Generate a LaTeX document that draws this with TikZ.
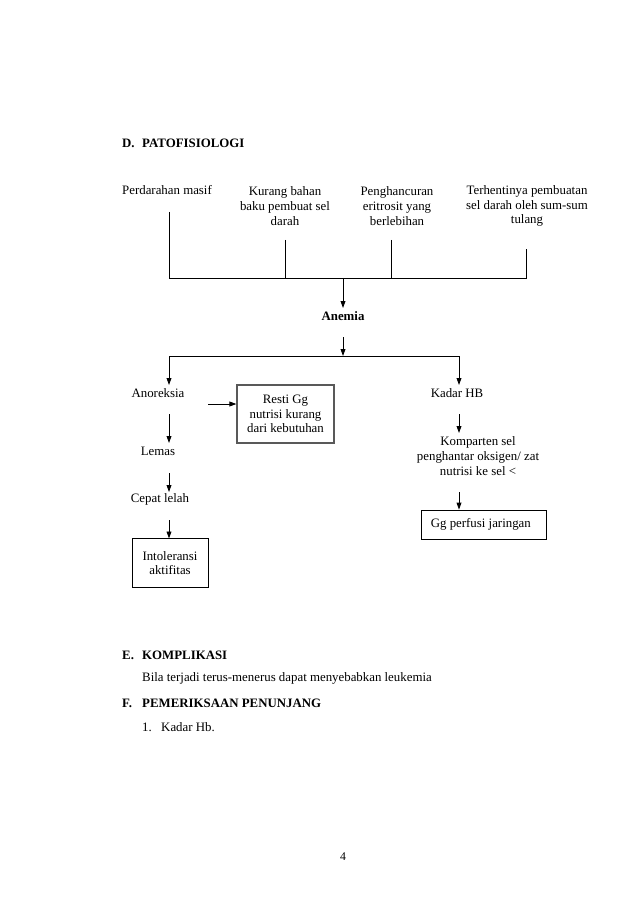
\documentclass[tikz,border=0pt]{standalone}
\usepackage{fontspec}
\setmainfont{Liberation Serif}
\usetikzlibrary{arrows.meta}
\begin{document}
\begin{tikzpicture}[x=0.9333pt,y=-0.9333pt,
  txt/.style={inner sep=0pt,font=\fontsize{12}{13.8}\selectfont,align=center},
  ltxt/.style={inner sep=0pt,font=\fontsize{12}{13.8}\selectfont,anchor=base west},
  head/.style={inner sep=0pt,font=\fontsize{12}{13.8}\selectfont\bfseries,anchor=base west},
  bx/.style={draw,line width=0.8pt,inner sep=0pt,font=\fontsize{12}{13.8}\selectfont,align=center},
  gbx/.style={draw=black!65,line width=1.1pt,inner sep=0pt,font=\fontsize{12}{13.8}\selectfont,align=center},
  ln/.style={line width=0.8pt},
  arr/.style={line width=0.8pt,-{Triangle[length=6.5pt,width=4.5pt]}}]
\useasboundingbox (0,0) rectangle (638,903);
\fill[white] (0,0) rectangle (638,903);

% Heading D
\node[head] (hD) at (122,148) {D.};
\node[head] (hDt) at (142,148) {PATOFISIOLOGI};

% causes
\node[ltxt] (perd) at (122,195) {Perdarahan masif};
\node[txt] (kurang) at (285,206) {Kurang bahan\\baku pembuat sel\\darah};
\node[txt] (peng) at (397,206) {Penghancuran\\eritrosit yang\\berlebihan};
\node[txt] (terh) at (527,206) {Terhentinya pembuatan\\sel darah oleh sum-sum\\tulang};

\coordinate (s1) at (169,212);
\coordinate (s2) at (285,240);
\coordinate (s3) at (391,240);
\coordinate (s4) at (526,249);
\coordinate (b1) at (169,278);
\coordinate (b2) at (285,278);
\coordinate (b3) at (391,278);
\coordinate (b4) at (526,278);
\coordinate (bm) at (343,278);

\draw[ln] (s1) -- (b1) -- (b4) -- (s4);
\draw[ln] (s2) -- (b2);
\draw[ln] (s3) -- (b3);

% Anemia
\node[txt,font=\fontsize{12}{13.8}\selectfont\bfseries] (anemia) at (343,316) {Anemia};
\coordinate (a1) at (343,308);
\draw[arr] (bm) -- (a1);

\coordinate (a2) at (343,337);
\coordinate (c1) at (343,356);
\coordinate (c2) at (169,356);
\coordinate (c3) at (459,356);
\coordinate (c2e) at (169,385);
\coordinate (c3e) at (459,385);
\draw[arr] (a2) -- (c1);
\draw[ln] (c2) -- (c3);
\draw[arr] (c2) -- (c2e);
\draw[arr] (c3) -- (c3e);

% left branch
\node[txt] (anor) at (158,393) {Anoreksia};
\node[gbx,minimum width=90.5pt,minimum height=54pt] (resti) at (285.5,414) {Resti Gg\\nutrisi kurang\\dari kebutuhan};
\coordinate (r0) at (208,404);
\draw[arr] (r0) -- (r0 -| resti.west);

\node[txt] (lemas) at (158,451) {Lemas};
\coordinate (l0) at (169,414);
\coordinate (l1) at (169,443);
\draw[arr] (l0) -- (l1);

\node[txt] (cepat) at (160,499) {Cepat lelah};
\coordinate (l2) at (169,473);
\coordinate (l3) at (169,492);
\draw[arr] (l2) -- (l3);

\node[bx,minimum width=71pt,minimum height=45pt] (intol) at (170,563) {Intoleransi\\aktifitas};
\coordinate (l4) at (169,520);
\draw[arr] (l4) -- (l4 |- intol.north);

% right branch
\node[txt] (kadar) at (457,393) {Kadar HB};
\node[txt] (komp) at (478,456) {Komparten sel\\penghantar oksigen/ zat\\nutrisi ke sel <};
\coordinate (k0) at (459,414);
\coordinate (k1) at (459,433);
\draw[arr] (k0) -- (k1);

\node[bx,minimum width=116.7pt,minimum height=27pt] (ggp) at (483.5,524.5) {Gg perfusi jaringan\hspace{5pt}};
\coordinate (k2) at (459,492);
\draw[arr] (k2) -- (k2 |- ggp.north);

% Section E
\node[head] (hE) at (122,659) {E.};
\node[head] (hEt) at (142,659) {KOMPLIKASI};
\node[ltxt] (bila) at (142,681) {Bila terjadi terus-menerus dapat menyebabkan leukemia};

% Section F
\node[head] (hF) at (122,707) {F.};
\node[head] (hFt) at (142,707) {PEMERIKSAAN PENUNJANG};
\node[ltxt] (n1) at (142,731) {1.};
\node[ltxt] (kadarhb) at (161,731) {Kadar Hb.};

% page number
\node[txt,font=\fontsize{11}{12}\selectfont] (pg) at (343,857) {4};
\end{tikzpicture}
\end{document}
